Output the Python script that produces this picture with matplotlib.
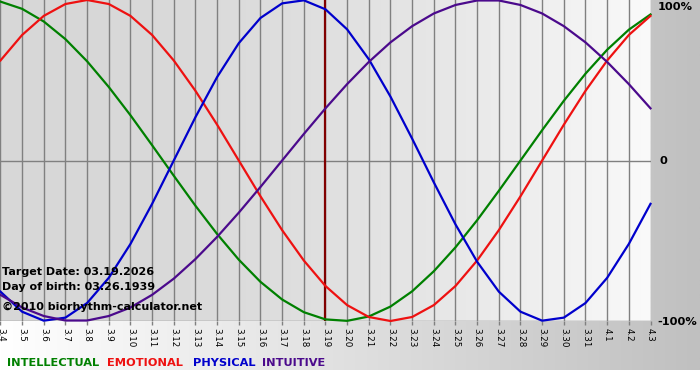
import numpy as np
import matplotlib.pyplot as plt

# dates on the x axis (March 4 - April 3)
days = ['3.4', '3.5', '3.6', '3.7', '3.8', '3.9', '3.10', '3.11', '3.12', '3.13',
        '3.14', '3.15', '3.16', '3.17', '3.18', '3.19', '3.20', '3.21', '3.22', '3.23',
        '3.24', '3.25', '3.26', '3.27', '3.28', '3.29', '3.30', '3.31', '4.1', '4.2', '4.3']
target_idx = 15  # 3.19

# cycle values per day (-1 .. 1)
intellectual = [0.99, 0.945, 0.866, 0.756, 0.618, 0.458, 0.282, 0.095, -0.095, -0.282,
                -0.458, -0.618, -0.756, -0.866, -0.945, -0.99, -0.999, -0.972, -0.91, -0.815,
                -0.69, -0.541, -0.372, -0.189, 0.0, 0.189, 0.372, 0.541, 0.69, 0.815, 0.91]
emotional = [0.623, 0.782, 0.901, 0.975, 1.0, 0.975, 0.901, 0.782, 0.623, 0.434,
             0.223, 0.0, -0.223, -0.434, -0.623, -0.782, -0.901, -0.975, -1.0, -0.975,
             -0.901, -0.782, -0.623, -0.434, -0.223, 0.0, 0.223, 0.434, 0.623, 0.782, 0.901]
physical = [-0.817, -0.942, -0.998, -0.979, -0.888, -0.731, -0.52, -0.27, 0.0, 0.27,
            0.52, 0.731, 0.888, 0.979, 0.998, 0.942, 0.817, 0.631, 0.398, 0.136,
            -0.136, -0.398, -0.631, -0.817, -0.942, -0.998, -0.979, -0.888, -0.731, -0.52, -0.27]
intuitive = [-0.837, -0.916, -0.969, -0.997, -0.997, -0.969, -0.916, -0.837, -0.736, -0.614,
             -0.476, -0.325, -0.165, 0.0, 0.165, 0.325, 0.476, 0.614, 0.736, 0.837,
             0.916, 0.969, 0.997, 0.997, 0.969, 0.916, 0.837, 0.736, 0.614, 0.476, 0.325]

W, H = 700, 380
fig = plt.figure(figsize=(W / 100, H / 100), dpi=100)

# gray strip behind the chart, white on the left to gray on the right
bg = fig.add_axes([0, 10 / H, 1, 370 / H])
g = np.linspace(255, 192, 256) / 255
bg.imshow(np.tile(g[None, :, None], (1, 1, 3)), aspect='auto', extent=[0, 1, 0, 1])
bg.set_axis_off()

ax = fig.add_axes([0, 59 / H, 650.5 / W, 321 / H])
ax.set_zorder(2)
x = np.arange(len(days))
x0, x1 = -0.02, len(days) - 1
ax.set_xlim(x0, x1)
ax.set_ylim(-1, 1)

t = np.linspace(0, 1, 256)
v = (215 + 35 * t ** 2) / 255
ax.imshow(np.tile(v[None, :, None], (1, 1, 3)), aspect='auto',
          extent=[x0, x1, -1, 1], zorder=0)

for s in ax.spines.values():
    s.set_visible(False)
ax.set_yticks([])
ax.set_xticks(x)
ax.set_xticklabels(days, rotation=-90, fontsize=6.3)
ax.tick_params(axis='x', length=3, width=1, color='#808080', pad=2)
for i in x:
    ax.axvline(i, color='#808080', lw=1, zorder=1)
ax.axhline(0, color='#808080', lw=1, zorder=1)
ax.axhline(-1, color='#808080', lw=1, zorder=1)

ax.axvline(target_idx, color='#800000', lw=1.6, zorder=2)

ax.plot(x, intellectual, color='#008000', lw=1.6, zorder=3, clip_on=False)
ax.plot(x, emotional, color='#ee1111', lw=1.6, zorder=3, clip_on=False)
ax.plot(x, physical, color='#0000cc', lw=1.6, zorder=3, clip_on=False)
ax.plot(x, intuitive, color='#4b0a8c', lw=1.6, zorder=3, clip_on=False)

# percent labels on the right
fig.text(658 / W, 1 - 7 / H, '100%', fontsize=8.2, weight='bold', va='center')
fig.text(659 / W, 1 - 161 / H, '0', fontsize=8.2, weight='bold', va='center')
fig.text(657 / W, 1 - 322 / H, '-100%', fontsize=8.2, weight='bold', va='center')

# info text
fig.text(2.5 / W, 1 - 272 / H, 'Target Date: 03.19.2026', fontsize=8, weight='bold', va='center', zorder=5)
fig.text(2.5 / W, 1 - 286.5 / H, 'Day of birth: 03.26.1939', fontsize=8, weight='bold', va='center', zorder=5)
fig.text(2.5 / W, 1 - 306.5 / H, '\u00a92010 biorhythm-calculator.net', fontsize=8, weight='bold', va='center', zorder=5)

# legend
fig.text(7 / W, 1 - 362.5 / H, 'INTELLECTUAL', color='#008000', fontsize=8.2, weight='bold', va='center')
fig.text(107 / W, 1 - 362.5 / H, 'EMOTIONAL', color='#ee1111', fontsize=8.2, weight='bold', va='center')
fig.text(193 / W, 1 - 362.5 / H, 'PHYSICAL', color='#0000cc', fontsize=8.2, weight='bold', va='center')
fig.text(262 / W, 1 - 362.5 / H, 'INTUITIVE', color='#4b0a8c', fontsize=8.2, weight='bold', va='center')

fig.savefig('out.png', dpi=100)
